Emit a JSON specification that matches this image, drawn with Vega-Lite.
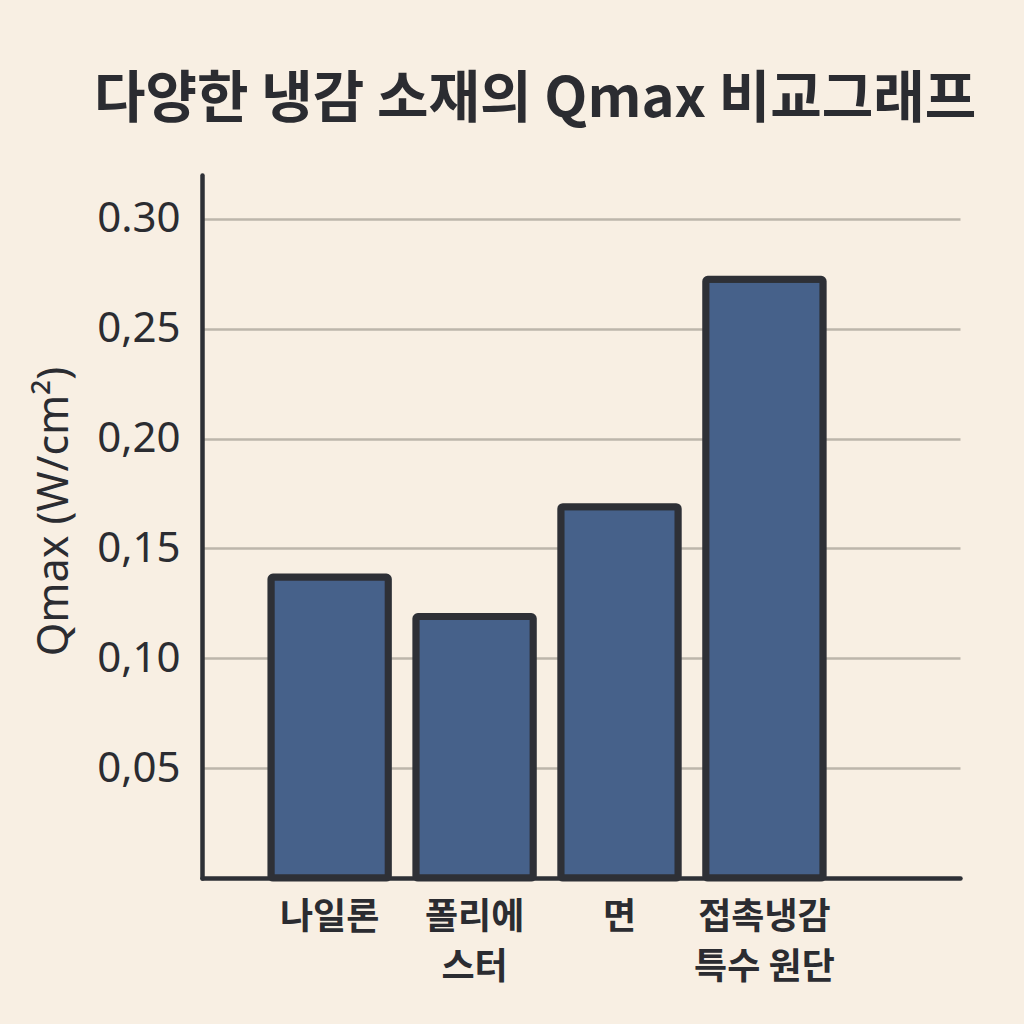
{
  "$schema": "https://vega.github.io/schema/vega-lite/v6.json",
  "width": 758,
  "height": 703,
  "autosize": "none",
  "padding": {"left": 202, "top": 175, "right": 64, "bottom": 146},
  "background": "#f8efe3",
  "title": {
    "text": "다양한 냉감 소재의 Qmax 비교그래프",
    "font": "Noto Sans CJK KR",
    "fontSize": 56,
    "fontWeight": "bold",
    "color": "#2b2c31",
    "anchor": "start",
    "frame": "group",
    "dx": -108,
    "offset": 46
  },
  "data": {
    "values": [
      {"material": "나일론", "qmax": 0.137},
      {"material": "폴리에스터", "qmax": 0.119},
      {"material": "면", "qmax": 0.169},
      {"material": "접촉냉감 특수 원단", "qmax": 0.2725}
    ]
  },
  "mark": {
    "type": "bar",
    "color": "#46618a",
    "stroke": "#2e3036",
    "strokeWidth": 7,
    "cornerRadius": 2
  },
  "encoding": {
    "x": {
      "field": "material",
      "type": "nominal",
      "sort": null,
      "scale": {"paddingInner": 0.19, "paddingOuter": 0.71, "align": 0.335},
      "axis": {
        "title": null,
        "labelAngle": 0,
        "labelFont": "Noto Sans CJK KR",
        "labelFontSize": 36,
        "labelFontWeight": "bold",
        "labelColor": "#2b2c31",
        "labelPadding": 22,
        "labelLineHeight": 50,
        "labelExpr": "datum.value == '폴리에스터' ? ['폴리에', '스터'] : datum.value == '접촉냉감 특수 원단' ? ['접촉냉감', '특수 원단'] : datum.value",
        "ticks": false,
        "domainColor": "#2e3036",
        "domainWidth": 4.5,
        "domainCap": "round"
      }
    },
    "y": {
      "field": "qmax",
      "type": "quantitative",
      "scale": {"domain": [0, 0.32], "nice": false},
      "axis": {
        "title": "Qmax (W/cm²)",
        "titleFont": "Noto Sans",
        "titleFontSize": 43,
        "titleFontWeight": "normal",
        "titleColor": "#2b2c31",
        "titlePadding": 20,
        "titleY": 336,
        "values": [0, 0.05, 0.1, 0.15, 0.2, 0.25, 0.3],
        "labelExpr": "datum.value == 0 ? '' : datum.value > 0.29 ? '0.30' : replace(format(datum.value, '.2f'), '.', ',')",
        "labelFont": "Noto Sans",
        "labelFontSize": 42,
        "labelColor": "#2b2c31",
        "labelPadding": 22,
        "ticks": false,
        "gridColor": "#bdb6ab",
        "gridWidth": 2.5,
        "domainColor": "#2e3036",
        "domainWidth": 4.5,
        "domainCap": "round"
      }
    }
  },
  "config": {
    "view": {"stroke": null}
  }
}
